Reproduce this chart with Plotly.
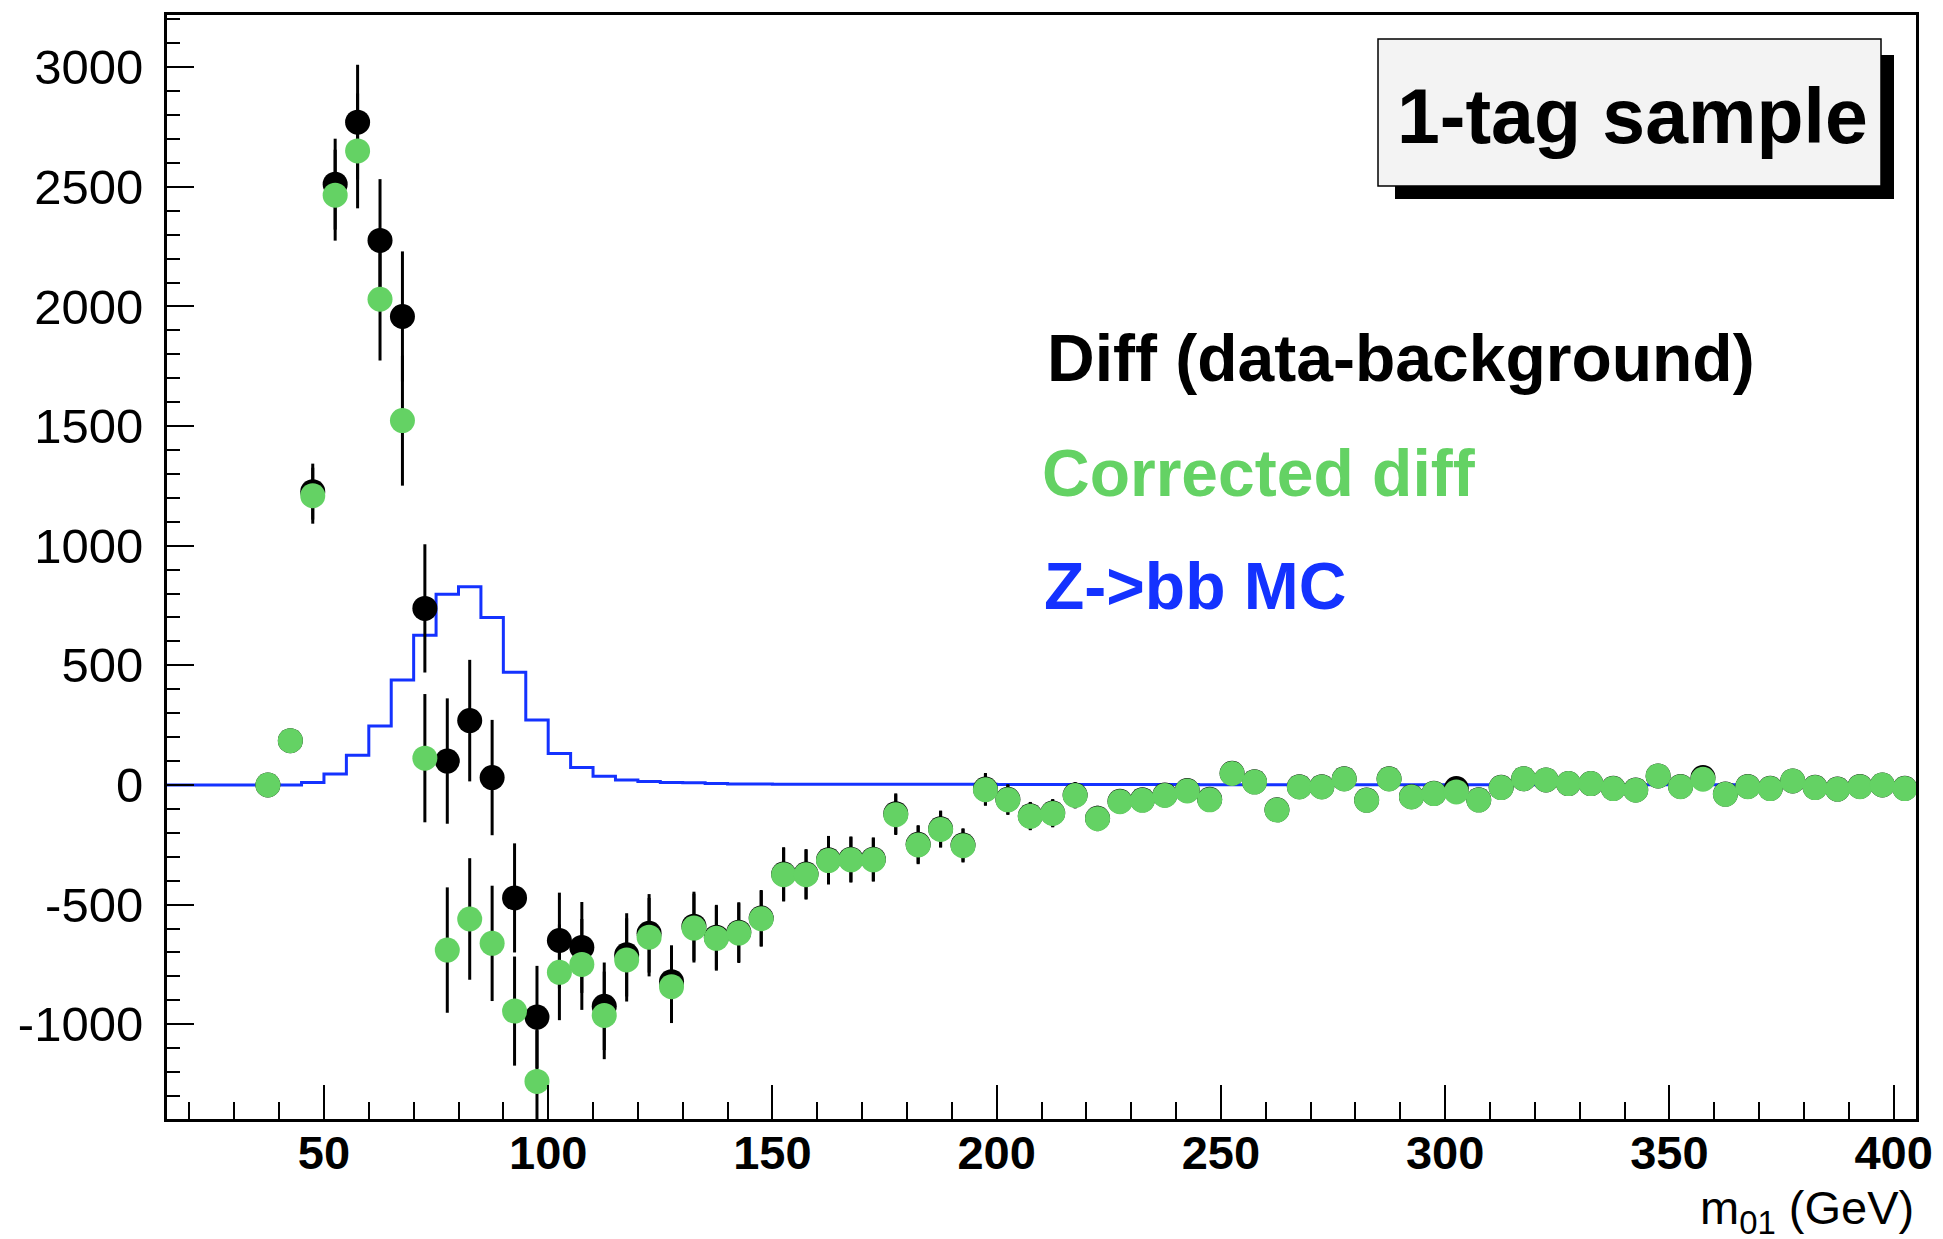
import numpy as np
import plotly.graph_objects as go

# ---------------- data ----------------
mass_centers = [37.5, 42.5, 47.5, 52.5, 57.5, 62.5, 67.5, 72.5, 77.5, 82.5,
                87.5, 92.5, 97.5, 102.5, 107.5, 112.5, 117.5, 122.5, 127.5, 132.5,
                137.5, 142.5, 147.5, 152.5, 157.5, 162.5, 167.5, 172.5, 177.5, 182.5,
                187.5, 192.5, 197.5, 202.5, 207.5, 212.5, 217.5, 222.5, 227.5, 232.5,
                237.5, 242.5, 247.5, 252.5, 257.5, 262.5, 267.5, 272.5, 277.5, 282.5,
                287.5, 292.5, 297.5, 302.5, 307.5, 312.5, 317.5, 322.5, 327.5, 332.5,
                337.5, 342.5, 347.5, 352.5, 357.5, 362.5, 367.5, 372.5, 377.5, 382.5,
                387.5, 392.5, 397.5, 402.5]

diff_data_bkg = [0, 185, 1226, 2511, 2770, 2276, 1958, 738, 100, 269,
                 31, -472, -970, -650, -679, -925, -710, -620, -822, -590,
                 -636, -615, -556, -372, -372, -313, -310, -310, -120, -248,
                 -183, -251, -17, -60, -129, -117, -42, -139, -68, -62,
                 -42, -23, -60, 49, 13, -104, -7, -7, 26, -63,
                 26, -49, -35, -15, -62, -10, 26, 21, 6, 6,
                 -14, -21, 38, -6, 31, -38, -6, -14, 17, -10,
                 -17, -6, 0, -14]

corrected_diff = [0, 185, 1209, 2465, 2650, 2030, 1523, 112, -690, -560,
                  -662, -945, -1239, -783, -750, -963, -731, -636, -843, -598,
                  -641, -619, -559, -375, -375, -316, -313, -313, -124, -251,
                  -186, -254, -20, -62, -131, -119, -44, -141, -70, -64,
                  -44, -25, -62, 48, 12, -105, -8, -8, 25, -64,
                  25, -50, -36, -29, -63, -11, 26, 21, 6, 6,
                  -15, -22, 38, -7, 24, -39, -7, -15, 17, -11,
                  -18, -7, 0, -15]

diff_errors = [30, 45, 117, 190, 240, 256, 272, 268, 262, 254,
               241, 228, 214, 200, 190, 183, 174, 164, 152, 144,
               135, 125, 117, 112, 104, 100, 95, 91, 85, 80,
               76, 70, 67, 63, 58, 58, 54, 52, 50, 48,
               46, 45, 44, 43, 42, 41, 40, 40, 39, 39,
               38, 38, 37, 37, 36, 36, 35, 35, 34, 34,
               33, 33, 32, 32, 31, 31, 30, 30, 30, 29,
               29, 29, 28, 28]

# Z->bb MC histogram, 5 GeV bins from 15 to 405 GeV
mc_low_edge = 15.0
mc_bin_width = 5.0
zbb_mc = [0, 0, 0, 0, 0, 0, 10, 46, 124, 247,
          439, 626, 797, 828, 700, 471, 272, 132, 73, 36,
          21, 15, 10, 9, 6, 4, 4, 3, 3, 3,
          3, 3, 3, 3, 3, 3, 3, 2, 2, 2,
          2, 2, 2, 2, 2, 2, 1, 1, 1, 1,
          1, 1, 1, 1, 1, 1, 1, 1, 1, 1,
          1, 1, 1, 1, 1, 1, 1, 1, 1, 1,
          1, 1, 1, 1, 1, 1, 1, 1]

x_tick_vals = [50, 100, 150, 200, 250, 300, 350, 400]
x_tick_text = ["50", "100", "150", "200", "250", "300", "350", "400"]
y_tick_vals = [-1000, -500, 0, 500, 1000, 1500, 2000, 2500, 3000]
y_tick_text = ["-1000", "-500", "0", "500", "1000", "1500", "2000", "2500", "3000"]

# ---------------- styling ----------------
GREEN = "#64d264"
BLUE = "#1432ff"
W, H = 1943, 1239
L, R, T, B = 167, 27, 15, 120
PW, PH = W - L - R, H - T - B
FONT = "Liberation Sans, Arial, sans-serif"

def px_x(p):
    return (p - L) / PW

def px_y(p):
    return (H - B - p) / PH

edges = mc_low_edge + mc_bin_width * np.arange(len(zbb_mc) + 1)
mc_x = list(edges)
mc_y = list(zbb_mc) + [zbb_mc[-1]]

fig = go.Figure()

fig.add_trace(go.Scatter(
    x=mc_x, y=mc_y, mode="lines", line=dict(color=BLUE, width=3, shape="hv"),
    showlegend=False, hoverinfo="skip"))

fig.add_trace(go.Scatter(
    x=mass_centers, y=diff_data_bkg, mode="markers",
    marker=dict(color="black", size=25, line=dict(width=0)),
    error_y=dict(type="data", array=diff_errors, color="black", thickness=3, width=0),
    showlegend=False))

fig.add_trace(go.Scatter(
    x=mass_centers, y=corrected_diff, mode="markers",
    marker=dict(color=GREEN, size=25, line=dict(width=0)),
    error_y=dict(type="data", array=diff_errors, color="black", thickness=3, width=0),
    showlegend=False))

# title box with shadow
fig.add_shape(type="rect", xref="paper", yref="paper",
              x0=px_x(1395), x1=px_x(1894), y0=px_y(199), y1=px_y(55),
              fillcolor="black", line=dict(width=0), layer="above")
fig.add_shape(type="rect", xref="paper", yref="paper",
              x0=px_x(1378), x1=px_x(1881), y0=px_y(186), y1=px_y(39),
              fillcolor="#f3f3f3", line=dict(color="black", width=1.5), layer="above")

fig.add_annotation(xref="paper", yref="paper", x=px_x(1632), y=px_y(116),
                   text="1-tag sample", showarrow=False, xanchor="center", yanchor="middle",
                   font=dict(family=FONT, size=77, color="black", weight="bold"))

fig.add_annotation(xref="paper", yref="paper", x=px_x(1045), y=px_y(358),
                   text="Diff (data-background)", showarrow=False,
                   xanchor="left", yanchor="middle",
                   font=dict(family=FONT, size=66, color="black", weight="bold"))
fig.add_annotation(xref="paper", yref="paper", x=px_x(1040), y=px_y(473),
                   text="Corrected diff", showarrow=False,
                   xanchor="left", yanchor="middle",
                   font=dict(family=FONT, size=66, color=GREEN, weight="bold"))
fig.add_annotation(xref="paper", yref="paper", x=px_x(1042), y=px_y(586),
                   text="Z->bb MC", showarrow=False,
                   xanchor="left", yanchor="middle",
                   font=dict(family=FONT, size=66, color=BLUE, weight="bold"))

# x-axis title
fig.add_annotation(xref="paper", yref="paper", x=px_x(1916), y=px_y(1211),
                   text="m<sub>01</sub> (GeV)", showarrow=False,
                   xanchor="right", yanchor="middle",
                   font=dict(family=FONT, size=47, color="black"))

fig.update_xaxes(
    range=[15, 405], showgrid=False, zeroline=False, automargin=False,
    showline=True, linecolor="black", linewidth=3, mirror=True,
    ticks="inside", ticklen=34, tickwidth=2, tickcolor="black",
    tickvals=x_tick_vals, ticktext=x_tick_text,
    tickfont=dict(family=FONT, size=47, color="black", weight="bold"),
    ticklabelstandoff=-9,
    minor=dict(ticks="inside", ticklen=17, tickwidth=2, tickcolor="black",
               dtick=10, tick0=0, showgrid=False),
)
fig.update_yaxes(
    range=[-1396, 3218], showgrid=False, zeroline=False, automargin=False,
    showline=True, linecolor="black", linewidth=3, mirror=True,
    ticks="inside", ticklen=27, tickwidth=2, tickcolor="black",
    tickvals=y_tick_vals, ticktext=y_tick_text,
    tickfont=dict(family=FONT, size=49, color="black"),
    ticklabelstandoff=11,
    minor=dict(ticks="inside", ticklen=13, tickwidth=2, tickcolor="black",
               dtick=100, tick0=0, showgrid=False),
)

fig.update_layout(
    width=W, height=H,
    margin=dict(l=L, r=R, t=T, b=B, pad=0),
    paper_bgcolor="white", plot_bgcolor="white",
    showlegend=False,
)

fig.write_html("out.html", config={"displayModeBar": False},
               post_script="document.body.style.margin='0';document.body.style.overflow='hidden';")
